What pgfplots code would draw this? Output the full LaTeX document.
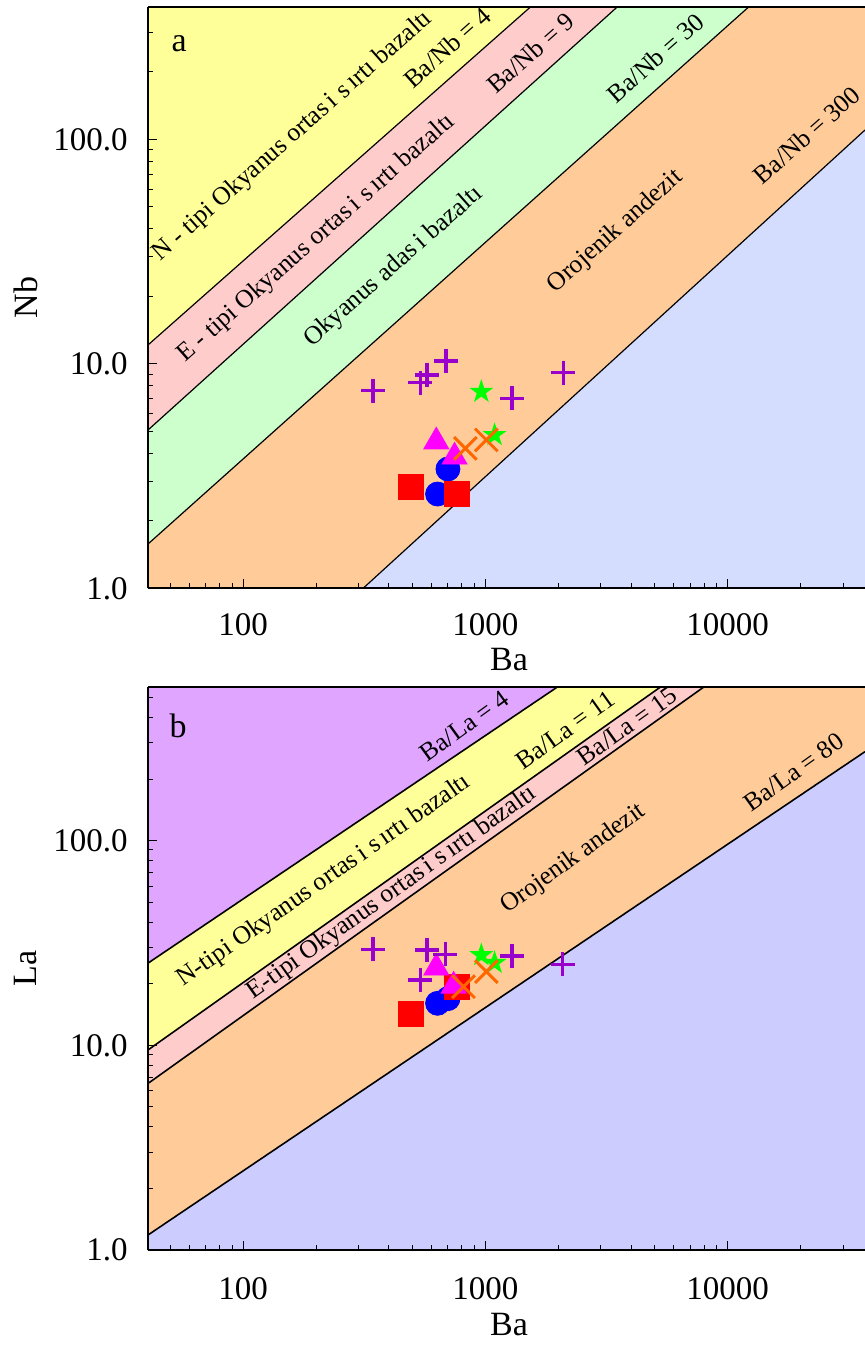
\documentclass[border=0pt]{standalone}
\usepackage{pgfplots}
\pgfplotsset{compat=1.18}
\usepackage{fontspec}
\setmainfont{Liberation Serif}
\definecolor{cyel}{HTML}{FFFF99}
\definecolor{cpink}{HTML}{FFCCCC}
\definecolor{cgreen}{HTML}{CCFFCC}
\definecolor{corange}{HTML}{FFCC99}
\definecolor{clavA}{HTML}{D5DDFF}
\definecolor{clavB}{HTML}{CCCCFF}
\definecolor{cpurp}{HTML}{E0A6FF}
\definecolor{cplus}{HTML}{9900CC}
\definecolor{cstar}{HTML}{00FF00}
\definecolor{cx}{HTML}{FF6600}
\definecolor{ctri}{HTML}{FF00FF}
\pgfdeclareplotmark{fstar}{%
 \pgfpathmoveto{\pgfpointpolar{90}{\pgfplotmarksize}}%
 \pgfpathlineto{\pgfpointpolar{126}{0.382\pgfplotmarksize}}%
 \pgfpathlineto{\pgfpointpolar{162}{\pgfplotmarksize}}%
 \pgfpathlineto{\pgfpointpolar{198}{0.382\pgfplotmarksize}}%
 \pgfpathlineto{\pgfpointpolar{234}{\pgfplotmarksize}}%
 \pgfpathlineto{\pgfpointpolar{270}{0.382\pgfplotmarksize}}%
 \pgfpathlineto{\pgfpointpolar{306}{\pgfplotmarksize}}%
 \pgfpathlineto{\pgfpointpolar{342}{0.382\pgfplotmarksize}}%
 \pgfpathlineto{\pgfpointpolar{18}{\pgfplotmarksize}}%
 \pgfpathlineto{\pgfpointpolar{54}{0.382\pgfplotmarksize}}%
 \pgfpathclose\pgfusepathqfill}
\newcommand{\lab}{\fontsize{12.8}{14}\selectfont}
\begin{document}
\begin{tikzpicture}
% ---------------- panel a ----------------
\begin{axis}[name=A, at={(0pt,0pt)}, anchor=north west,
  scale only axis, width=358.5pt, height=290.65pt,
  xmode=log, ymode=log, xmin=40.5, xmax=36940, ymin=1, ymax=388.5,
  axis on top, axis x line=box, axis y line=left,
  axis line style={-, line width=0.9pt},
  tick align=inside, xtick pos=left, ytick pos=left,
  major tick length=4.5pt, minor tick length=2.5pt,
  tick style={black, line width=0.5pt},
  xtick={100,1000,10000}, xticklabels={100,1000,10000},
  minor xtick={50,60,70,80,90,200,300,400,500,600,700,800,900,2000,3000,4000,5000,6000,7000,8000,9000,20000,30000},
  ytick={1,10,100}, yticklabels={1.0,10.0,100.0},
  minor ytick={2,3,4,5,6,7,8,9,20,30,40,50,60,70,80,90,200,300},
  xticklabel style={font=\fontsize{16.5}{18}\selectfont, inner sep=0pt, anchor=center, yshift=-18pt},
  yticklabel style={font=\fontsize{16.5}{18}\selectfont, inner sep=0pt, anchor=east, xshift=-10pt},
  xlabel={Ba}, ylabel={Nb},
  xlabel style={font=\fontsize{17}{20}\selectfont, at={(axis description cs:0.5035,-0.1233)}, anchor=center},
  ylabel style={font=\fontsize{17}{20}\selectfont, at={(axis description cs:-0.1708,0.5)}, anchor=center},
 ]
 \addplot[fill=cyel, draw=none] coordinates {(40.5,12.13) (1535,388.5) (40.5,388.5)} -- cycle;
 \addplot[fill=cpink, draw=none] coordinates {(40.5,5.07) (3502,388.5) (1535,388.5) (40.5,12.13)} -- cycle;
 \addplot[fill=cgreen, draw=none] coordinates {(40.5,1.575) (12215,388.5) (3502,388.5) (40.5,5.07)} -- cycle;
 \addplot[fill=corange, draw=none] coordinates {(40.5,1) (313,1) (36940,110) (36940,388.5) (12215,388.5) (40.5,1.575)} -- cycle;
 \addplot[fill=clavA, draw=none] coordinates {(313,1) (36940,1) (36940,110)} -- cycle;
 \addplot[black, line width=0.6pt] coordinates {(40.5,12.13) (1535,388.5)};
 \addplot[black, line width=0.6pt] coordinates {(40.5,5.07) (3502,388.5)};
 \addplot[black, line width=0.6pt] coordinates {(40.5,1.575) (12215,388.5)};
 \addplot[black, line width=0.6pt] coordinates {(313,1) (36940,110)};
 \node[font=\lab, rotate=41.5] at (axis cs:160.2,102.9) {N - tipi Okyanus ortas\,i s\,ırtı bazaltı};
 \node[font=\lab, rotate=41.5] at (axis cs:201.2,36.1) {E - tipi Okyanus ortas\,i s\,ırtı bazaltı};
 \node[font=\lab, rotate=41.5] at (axis cs:418.8,27.1) {Okyanus adas\,i bazaltı};
 \node[font=\lab, rotate=41.7] at (axis cs:3445,38.8) {Orojenik andezit};
 \node[font=\lab, rotate=41.5] at (axis cs:696.6,256.4) {Ba/Nb = 4};
 \node[font=\lab, rotate=41.5] at (axis cs:1535,242.3) {Ba/Nb = 9};
 \node[font=\lab, rotate=41.5] at (axis cs:5040,230) {Ba/Nb = 30};
 \node[font=\lab, rotate=41.5] at (axis cs:21200,104.5) {Ba/Nb = 300};
 \node[font=\fontsize{17}{20}\selectfont] at (axis cs:54.4,265.8) {a};
 \addplot[only marks, mark=*, color=blue, mark size=6pt] coordinates {(701,3.40) (635.2,2.63)};
 \addplot[only marks, mark=square*, color=red, mark size=6.25pt] coordinates {(494.6,2.84) (763.8,2.63)};
 \addplot[only marks, mark=triangle*, color=ctri, mark size=7.2pt] coordinates {(627.4,4.50) (746.6,3.85)};
 \addplot[only marks, mark=fstar, color=cstar, mark size=6.3pt] coordinates {(962.7,7.51) (1092,4.82)};
 \addplot[only marks, mark=x, color=cx, mark size=8pt, mark options={line width=1.5pt}] coordinates {(826.7,4.20) (1009.5,4.58)};
 \addplot[only marks, mark=+, color=cplus, mark size=6pt, mark options={line width=1.6pt}] coordinates {(343.6,7.59) (538.6,8.24) (574.2,8.92) (688,10.29) (1289,7.02) (2095,9.13)};
\end{axis}
% ---------------- panel b ----------------
\begin{axis}[name=B, at={(0pt,-340pt)}, anchor=north west,
  scale only axis, width=358.5pt, height=281.5pt,
  xmode=log, ymode=log, xmin=40.5, xmax=36940, ymin=1, ymax=562.9,
  axis on top, axis x line=box, axis y line=left,
  axis line style={-, line width=0.9pt},
  tick align=inside, xtick pos=left, ytick pos=left,
  major tick length=4.5pt, minor tick length=2.5pt,
  tick style={black, line width=0.5pt},
  xtick={100,1000,10000}, xticklabels={100,1000,10000},
  minor xtick={50,60,70,80,90,200,300,400,500,600,700,800,900,2000,3000,4000,5000,6000,7000,8000,9000,20000,30000},
  ytick={1,10,100}, yticklabels={1.0,10.0,100.0},
  minor ytick={2,3,4,5,6,7,8,9,20,30,40,50,60,70,80,90,200,300,400,500},
  xticklabel style={font=\fontsize{16.5}{18}\selectfont, inner sep=0pt, anchor=center, yshift=-19.25pt},
  yticklabel style={font=\fontsize{16.5}{18}\selectfont, inner sep=0pt, anchor=east, xshift=-10pt},
  xlabel={Ba}, ylabel={La},
  xlabel style={font=\fontsize{17}{20}\selectfont, at={(axis description cs:0.5035,-0.1332)}, anchor=center},
  ylabel style={font=\fontsize{17}{20}\selectfont, at={(axis description cs:-0.1708,0.5)}, anchor=center},
 ]
 \addplot[fill=cpurp, draw=none] coordinates {(40.5,25.2) (1984,562.9) (40.5,562.9)} -- cycle;
 \addplot[fill=cyel, draw=none] coordinates {(40.5,9.49) (5285,562.9) (1984,562.9) (40.5,25.2)} -- cycle;
 \addplot[fill=cpink, draw=none] coordinates {(40.5,6.51) (7980,562.9) (5285,562.9) (40.5,9.49)} -- cycle;
 \addplot[fill=corange, draw=none] coordinates {(40.5,1.184) (36940,272) (36940,562.9) (7980,562.9) (40.5,6.51)} -- cycle;
 \addplot[fill=clavB, draw=none] coordinates {(40.5,1) (36940,1) (36940,272) (40.5,1.184)} -- cycle;
 \addplot[black, line width=0.8pt] coordinates {(40.5,25.2) (1984,562.9)};
 \addplot[black, line width=0.8pt] coordinates {(40.5,9.49) (5285,562.9)};
 \addplot[black, line width=0.8pt] coordinates {(40.5,6.51) (7980,562.9)};
 \addplot[black, line width=0.8pt] coordinates {(40.5,1.184) (36940,272)};
 \node[font=\lab, rotate=35] at (axis cs:216.1,63.5) {N-tipi Okyanus ortas\,i s\,ırtı bazaltı};
 \node[font=\lab, rotate=35.5] at (axis cs:412.7,55.5) {E-tipi Okyanus ortas\,i s\,ırtı bazaltı};
 \node[font=\lab, rotate=35.5] at (axis cs:2310,81.3) {Orojenik andezit};
 \node[font=\lab, rotate=36] at (axis cs:819,363) {Ba/La = 4};
 \node[font=\lab, rotate=35.5] at (axis cs:2141,347) {Ba/La = 11};
 \node[font=\lab, rotate=35.5] at (axis cs:3850,363) {Ba/La = 15};
 \node[font=\lab, rotate=35.5] at (axis cs:18740,216.3) {Ba/La = 80};
 \node[font=\fontsize{17}{20}\selectfont] at (axis cs:53.9,363) {b};
 \addplot[only marks, mark=*, color=blue, mark size=6pt] coordinates {(635.2,16.04) (701,16.9)};
 \addplot[only marks, mark=square*, color=red, mark size=6.25pt] coordinates {(494.6,14.3) (763.8,19.33)};
 \addplot[only marks, mark=triangle*, color=ctri, mark size=7.2pt] coordinates {(627.4,23.9) (740,19.5)};
 \addplot[only marks, mark=fstar, color=cstar, mark size=6.3pt] coordinates {(962.7,27.6) (1092,25.3)};
 \addplot[only marks, mark=x, color=cx, mark size=8pt, mark options={line width=1.5pt}] coordinates {(813.5,19.33) (1009.5,22.9)};
 \addplot[only marks, mark=+, color=cplus, mark size=6pt, mark options={line width=1.6pt}] coordinates {(343.6,29.44) (574.2,29.2) (683.5,27.9) (538.6,20.84) (1289,27.3) (2087,24.87)};
\end{axis}
\pgfresetboundingbox
\useasboundingbox (-74pt,-671pt) rectangle (358.5pt,3.5pt);
\end{tikzpicture}
\end{document}
